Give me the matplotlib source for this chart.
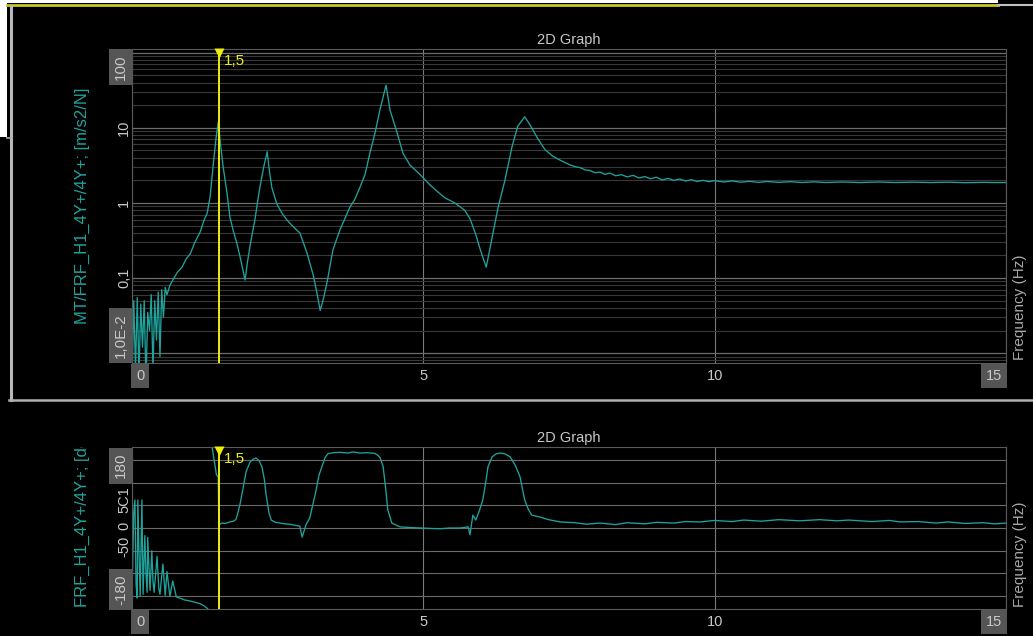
import numpy as np
import matplotlib
matplotlib.use('Agg')
import matplotlib.pyplot as plt
from matplotlib import transforms as mtransforms
from matplotlib.lines import Line2D
from matplotlib.patches import Rectangle

plt.rcParams['font.family'] = ['Liberation Sans', 'DejaVu Sans']

# --- data ---
# FRF magnitude [m/s2/N] vs frequency [Hz]
mag_freq = [0.00, 0.03, 0.06, 0.09, 0.12, 0.15, 0.18, 0.21, 0.24, 0.27,
            0.30, 0.33, 0.36, 0.39, 0.42, 0.45, 0.48, 0.51, 0.54, 0.57,
            0.60, 0.65, 0.70, 0.78, 0.86, 0.93, 1.00, 1.08, 1.17, 1.24,
            1.29, 1.34, 1.39, 1.44, 1.48, 1.52, 1.56, 1.63, 1.68, 1.74,
            1.80, 1.87, 1.94, 1.98, 2.03, 2.11, 2.16, 2.20, 2.26, 2.32,
            2.36, 2.40, 2.49, 2.58, 2.66, 2.77, 2.88, 3.00, 3.11, 3.18,
            3.23, 3.29, 3.35, 3.45, 3.57, 3.74, 3.82, 3.91, 4.00, 4.08,
            4.17, 4.26, 4.36, 4.43, 4.55, 4.65, 4.77, 4.94, 5.11, 5.25,
            5.37, 5.54, 5.71, 5.80, 5.90, 5.97, 6.03, 6.08, 6.13, 6.18,
            6.28, 6.40, 6.52, 6.62, 6.74, 6.83, 6.95, 7.09, 7.22, 7.35,
            7.52, 7.60, 7.69, 7.78, 7.86, 7.95, 8.03, 8.12, 8.20, 8.30,
            8.40, 8.50, 8.60, 8.70, 8.80, 8.90, 9.00, 9.10, 9.20, 9.30,
            9.40, 9.50, 9.60, 9.70, 9.80, 9.90, 10.0, 10.15, 10.3, 10.45,
            10.6, 10.75, 10.9, 11.1, 11.3, 11.5, 11.7, 11.9, 12.2, 12.5,
            12.8, 13.1, 13.4, 13.7, 14.0, 14.3, 14.6, 14.8, 15.0]
mag_vals = [0.004, 0.05, 0.006, 0.055, 0.005, 0.045, 0.012, 0.05, 0.004, 0.035,
            0.02, 0.06, 0.006, 0.05, 0.015, 0.065, 0.009, 0.07, 0.03, 0.075,
            0.06, 0.08, 0.094, 0.12, 0.14, 0.18, 0.21, 0.30, 0.41, 0.60,
            0.73, 1.2, 3.0, 7.0, 12.0, 6.0, 3.2, 1.36, 0.65, 0.42,
            0.29, 0.17, 0.094, 0.16, 0.28, 0.60, 1.1, 1.7, 3.0, 4.8,
            2.6, 1.6, 0.95, 0.72, 0.59, 0.48, 0.40, 0.22, 0.11, 0.06,
            0.037, 0.055, 0.09, 0.24, 0.44, 0.88, 1.1, 1.6, 2.4, 4.5,
            8.5, 18, 37, 17, 8.6, 4.6, 3.2, 2.4, 1.75, 1.4,
            1.17, 1.0, 0.8, 0.62, 0.38, 0.25, 0.18, 0.14, 0.22, 0.35,
            0.85, 2.0, 5.5, 10.5, 14.0, 11.0, 7.5, 5.1, 4.2, 3.7,
            3.2, 3.05, 2.95, 2.75, 2.7, 2.52, 2.58, 2.4, 2.5, 2.3,
            2.38, 2.22, 2.33, 2.15, 2.24, 2.1, 2.2, 2.02, 2.12, 2.0,
            2.08, 1.96, 2.04, 1.93, 2.0, 1.92, 1.98, 1.9, 1.96, 1.89,
            1.94, 1.88, 1.93, 1.88, 1.92, 1.87, 1.91, 1.87, 1.9, 1.87,
            1.9, 1.87, 1.89, 1.87, 1.89, 1.86, 1.88, 1.87, 1.87]

# FRF phase [deg] vs frequency [Hz] (nan = wrap break)
ph_freq = [0.00, 0.03, 0.05, 0.07, 0.09, 0.10, 0.12, 0.14, 0.17, 0.19,
           0.22, 0.24, 0.26, 0.27, 0.29, 0.31, 0.34, 0.36, 0.38, 0.43,
           0.46, 0.48, 0.53, 0.57, 0.60, 0.65, 0.70, 0.76, 0.82, 0.90,
           1.00, 1.10, 1.17, 1.24, 1.29, 1.32, 1.34, 1.37, 1.45, 1.48,
           1.49, 1.54, 1.60, 1.68, 1.74, 1.78, 1.80, 1.85, 1.90, 1.96,
           2.03, 2.08, 2.13, 2.18, 2.23, 2.27, 2.30, 2.35, 2.39, 2.46,
           2.54, 2.62, 2.71, 2.80, 2.88, 2.92, 2.99, 3.05, 3.10, 3.16,
           3.21, 3.26, 3.31, 3.36, 3.45, 3.57, 3.70, 3.80, 3.91, 4.04,
           4.17, 4.22, 4.26, 4.31, 4.35, 4.39, 4.46, 4.60, 4.80, 4.94,
           5.10, 5.29, 5.45, 5.63, 5.77, 5.80, 5.85, 5.90, 5.96, 6.02,
           6.07, 6.11, 6.18, 6.25, 6.32, 6.40, 6.49, 6.58, 6.66, 6.74,
           6.80, 6.86, 7.00, 7.15, 7.35, 7.60, 7.80, 8.03, 8.30, 8.50,
           8.80, 9.00, 9.30, 9.50, 9.75, 10.0, 10.3, 10.5, 10.8, 11.1,
           11.46, 11.8, 12.1, 12.3, 12.7, 13.0, 13.18, 13.5, 13.8, 14.0,
           14.3, 14.6, 14.8, 15.0]
ph_vals = [-175, 40, 74, -150, -185, 74, -60, -180, 74, -175,
           -20, -120, -170, -25, -100, -165, -60, -140, -170, -75,
           -160, -175, -95, -178, -115, -180, -140, -182, -185, -190,
           -193, -197, -200, -206, -212, -218, np.nan, 218, 140, 135,
           8, 13, 12, 16, 18, 22, 30, 60, 100, 150,
           175, 182, 185, 178, 162, 130, 90, 40, 21, 15,
           13, 11, 10, 7, 5, -24, 10, 26, 60, 100,
           140, 162, 185, 196, 199, 200, 198, 201, 198, 199,
           197, 192, 185, 162, 110, 48, 13, 3, 1, 0,
           -1, -2, 0, 0, 3, -18, 34, 21, 45, 74,
           120, 162, 188, 196, 198, 196, 188, 165, 135, 74,
           50, 34, 29, 22, 16, 14, 10, 13, 9, 14,
           11, 15, 13, 17, 16, 20, 17, 21, 18, 22,
           19, 22, 19, 21, 17, 20, 16, 17, 13, 16,
           12, 14, 11, 13]

x_ticks = [0, 5, 10, 15]
x_ticklabels = ['0', '5', '10', '15']
mag_ticks = [10, 1, 0.1]
mag_ticklabels = ['10', '1', '0,1']
ph_grid = [-180, -120, -60, 0, 60, 120, 180]
ph_ticks = [74, 5, -48]
ph_ticklabels = ['5C1', '0', '-50']
cursor_f = 1.49

W, H = 1033, 636
fig = plt.figure(figsize=(W / 100, H / 100), dpi=100, facecolor='black')

def fx(px):
    return px / W

def fy(py):
    return 1 - py / H

teal = '#1fa39c'
yellow = '#eeee10'
tick_col = '#c8c8c8'
box_col = '#555555'

# window decorations around the top graph
fig.patches.append(Rectangle((0, fy(3)), fx(998), 3 / H, transform=fig.transFigure,
                             facecolor='white', edgecolor='none'))
fig.patches.append(Rectangle((0, fy(137)), fx(7), 134 / H, transform=fig.transFigure,
                             facecolor='white', edgecolor='none'))
fig.lines.append(Line2D([fx(7), fx(998)], [fy(4.5), fy(4.5)], transform=fig.transFigure,
                        color='#c8c81e', lw=2))
fig.lines.append(Line2D([fx(998), fx(1033)], [fy(5), fy(5)], transform=fig.transFigure,
                        color='#c0c0c0', lw=1.5))
fig.lines.append(Line2D([fx(10.5), fx(10.5)], [fy(6), fy(400)], transform=fig.transFigure,
                        color='#b8b8b8', lw=2.2))
fig.lines.append(Line2D([fx(9), fx(1033)], [fy(400), fy(400)], transform=fig.transFigure,
                        color='#b0b0b0', lw=1.8))
fig.lines.append(Line2D([fx(7), fx(12)], [fy(137.5), fy(137.5)], transform=fig.transFigure,
                        color='#b0b0b0', lw=1.2))

ax1 = fig.add_axes([fx(132), fy(363), 874 / W, 314 / H])
ax2 = fig.add_axes([fx(132), fy(609), 874 / W, 162 / H])

for ax in (ax1, ax2):
    ax.set_facecolor('black')
    for s in ax.spines.values():
        s.set_color('#5a5a5a')
        s.set_linewidth(0.8)
    ax.set_xlim(0, 15)
    ax.set_xticks(x_ticks)
    ax.tick_params(which='both', length=0, labelbottom=False, labelleft=False)
    ax.grid(axis='x', color='#7a7a7a', lw=0.8)
    ax.set_axisbelow(True)

# magnitude panel
ax1.set_yscale('log')
ax1.set_ylim(0.0074, 112)
ax1.grid(which='major', axis='y', color='#6c6c6c', lw=0.9)
ax1.grid(which='minor', axis='y', color='#383838', lw=0.8)
ax1.plot(mag_freq, mag_vals, color=teal, lw=0.95)

# phase panel
ax2.set_ylim(-214, 214)
ax2.set_yticks(ph_grid)
ax2.grid(axis='y', color='#6a6a6a', lw=0.8)
ax2.plot(ph_freq, ph_vals, color=teal, lw=0.95)

box = dict(boxstyle='square,pad=0.35', facecolor=box_col, edgecolor='none')

for ax in (ax1, ax2):
    # x tick labels
    tr = mtransforms.offset_copy(ax.get_xaxis_transform(), fig=fig, x=0, y=-13, units='dots')
    for v, lab in zip(x_ticks, x_ticklabels):
        if v == x_ticks[0]:
            ax.text(v, 0, lab, transform=mtransforms.offset_copy(tr, fig=fig, x=4, y=0, units='dots'),
                    ha='left', va='center', color=tick_col, fontsize=10.5, bbox=box)
        elif v == x_ticks[-1]:
            ax.text(v, 0, lab, transform=mtransforms.offset_copy(tr, fig=fig, x=-4, y=0, units='dots'),
                    ha='right', va='center', color=tick_col, fontsize=10.5, bbox=box)
        else:
            ax.text(v, 0, lab, transform=tr, ha='center', va='center',
                    color=tick_col, fontsize=10.5)
    # title
    ax.text(0.5, 1, '2D Graph', transform=mtransforms.offset_copy(ax.transAxes, fig=fig, y=9, units='dots'),
            ha='center', va='center', color='#c8c8c8', fontsize=10.5)
    # cursor
    ax.axvline(cursor_f, color=yellow, lw=1.4, zorder=5)
    ax.plot([cursor_f], [1], transform=mtransforms.offset_copy(ax.get_xaxis_transform(), fig=fig, y=-4, units='dots'),
            marker='v', ms=7, color=yellow, mec='none', clip_on=False, zorder=6)
    ax.text(cursor_f, 1, '1,5', transform=mtransforms.offset_copy(ax.get_xaxis_transform(), fig=fig, x=5, y=-5, units='dots'),
            ha='left', va='top', color=yellow, fontsize=11)

# y tick labels, magnitude
ytr1 = mtransforms.offset_copy(ax1.get_yaxis_transform(), fig=fig, x=-8, units='dots')
for v, lab in zip(mag_ticks, mag_ticklabels):
    ax1.text(0, v, lab, transform=ytr1, rotation=90, ha='center', va='center',
             color=tick_col, fontsize=10.5)
ax1.text(0, 1, '100', transform=mtransforms.offset_copy(ax1.transAxes, fig=fig, x=-4, y=-5, units='dots'),
         rotation=90, ha='right', va='top', color=tick_col, fontsize=11, bbox=box)
ax1.text(0, 0, '1,0E-2', transform=mtransforms.offset_copy(ax1.transAxes, fig=fig, x=-4, y=5, units='dots'),
         rotation=90, ha='right', va='bottom', color=tick_col, fontsize=11, bbox=box)

# y tick labels, phase
ytr2 = mtransforms.offset_copy(ax2.get_yaxis_transform(), fig=fig, x=-8, units='dots')
for v, lab in zip(ph_ticks, ph_ticklabels):
    ax2.text(0, v, lab, transform=ytr2, rotation=90, ha='center', va='center',
             color=tick_col, fontsize=10.5)
ax2.text(0, 1, '180', transform=mtransforms.offset_copy(ax2.transAxes, fig=fig, x=-4, y=-6, units='dots'),
         rotation=90, ha='right', va='top', color=tick_col, fontsize=11, bbox=box)
ax2.text(0, 0, '-180', transform=mtransforms.offset_copy(ax2.transAxes, fig=fig, x=-4, y=4, units='dots'),
         rotation=90, ha='right', va='bottom', color=tick_col, fontsize=11, bbox=box)

# axis titles
fig.text(fx(82), fy(206), 'MT/FRF_H1_4Y+/4Y+; [m/s2/N]', rotation=90, ha='center', va='center',
         color=teal, fontsize=12)
t = fig.text(fx(82), fy(607), 'FRF_H1_4Y+/4Y+; [deg]', rotation=90, ha='center', va='bottom',
             color=teal, fontsize=12)
t.set_clip_box(mtransforms.TransformedBbox(mtransforms.Bbox.from_extents(0, 0, 1, fy(447)), fig.transFigure))
t.set_clip_on(True)
fig.text(fx(1020), fy(360), 'Frequency (Hz)', rotation=90, ha='center', va='bottom',
         color='#a8a8a8', fontsize=11)
fig.text(fx(1020), fy(607), 'Frequency (Hz)', rotation=90, ha='center', va='bottom',
         color='#a8a8a8', fontsize=11)

fig.savefig('out.png', dpi=100, facecolor='black')
